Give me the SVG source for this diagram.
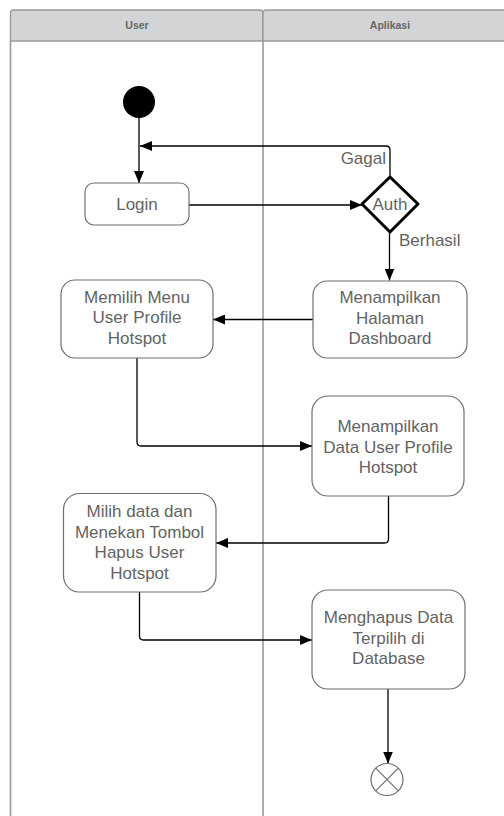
<svg xmlns="http://www.w3.org/2000/svg" width="504" height="816" viewBox="0 0 504 816">
  <style>
    .lane { fill: none; stroke: #9a9a9a; stroke-width: 1.6; }
    .head { fill: #d3d4d6; stroke: #9a9a9a; stroke-width: 1.4; }
    .htxt { font-family: "Liberation Sans", Arial, sans-serif; font-size: 10.5px; font-weight: bold; fill: #666666; text-anchor: middle; }
    .box { fill: #ffffff; stroke: #6f6f6f; stroke-width: 1.2; }
    .txt { font-family: "Liberation Sans", Arial, sans-serif; font-size: 17px; fill: #636363; text-anchor: middle; }
    .lbl { font-family: "Liberation Sans", Arial, sans-serif; font-size: 17px; fill: #636363; }
    .edge { fill: none; stroke: #000000; stroke-width: 1.3; }
  </style>
  <defs>
    <marker id="arrow" markerUnits="userSpaceOnUse" markerWidth="13" markerHeight="10" refX="12" refY="5" orient="auto">
      <path d="M0,0 L12,5 L0,10 z" fill="#000000"/>
    </marker>
  </defs>

  <rect width="504" height="816" fill="#ffffff"/>

  <!-- swimlanes -->
  <g id="lanes">
    <line class="lane" x1="10.5" y1="41" x2="10.5" y2="816"/>
    <line class="lane" x1="263" y1="41" x2="263" y2="816"/>
    <path class="head" d="M10.5,41 V13 Q10.5,10 13.5,10 H260 Q263,10 263,13 V41 Z"/>
    <path class="head" d="M263,41 V13 Q263,10 266,10 H510 V41 Z"/>
    <text class="htxt" x="137" y="28.5">User</text>
    <text class="htxt" x="390" y="28.5">Aplikasi</text>
  </g>

  <!-- connectors -->
  <g id="connectors">
    <path class="edge" d="M139,118 V183" marker-end="url(#arrow)"/>
    <path class="edge" d="M390,177 V150 Q390,146 386,146 H140" marker-end="url(#arrow)"/>
    <path class="edge" d="M189,205 H362" marker-end="url(#arrow)"/>
    <path class="edge" d="M389.5,232 V280.5" marker-end="url(#arrow)"/>
    <path class="edge" d="M313,319.5 H213" marker-end="url(#arrow)"/>
    <path class="edge" d="M137,358 V442 Q137,446 141,446 H312" marker-end="url(#arrow)"/>
    <path class="edge" d="M388.5,496 V539 Q388.5,543 384.5,543 H216" marker-end="url(#arrow)"/>
    <path class="edge" d="M139.5,592 V636 Q139.5,640 143.5,640 H312" marker-end="url(#arrow)"/>
    <path class="edge" d="M388,689 V763.5" marker-end="url(#arrow)"/>
    <text class="lbl" x="386" y="164" text-anchor="end">Gagal</text>
    <text class="lbl" x="399" y="246">Berhasil</text>
  </g>

  <!-- nodes -->
  <g id="start">
    <circle cx="139" cy="102" r="16" fill="#000000"/>
  </g>

  <g id="login">
    <rect class="box" x="85" y="183" width="104" height="42" rx="9"/>
    <text class="txt" x="137" y="210">Login</text>
  </g>

  <g id="auth">
    <polygon points="362,204 390,177 418,204 390,232" fill="#ffffff" stroke="#000000" stroke-width="3" stroke-linejoin="round"/>
    <text class="txt" x="390" y="210">Auth</text>
  </g>

  <g id="dashboard">
    <rect class="box" x="313" y="281" width="154" height="77" rx="14"/>
    <text class="txt" x="390" y="303">Menampilkan</text>
    <text class="txt" x="390" y="323.5">Halaman</text>
    <text class="txt" x="390" y="344">Dashboard</text>
  </g>

  <g id="pilih-menu">
    <rect class="box" x="61" y="280" width="152" height="78" rx="14"/>
    <text class="txt" x="137" y="302.5">Memilih Menu</text>
    <text class="txt" x="137" y="323">User Profile</text>
    <text class="txt" x="137" y="343.5">Hotspot</text>
  </g>

  <g id="data-profile">
    <rect class="box" x="312" y="396" width="152" height="100" rx="16"/>
    <text class="txt" x="388" y="432">Menampilkan</text>
    <text class="txt" x="388" y="452.5">Data User Profile</text>
    <text class="txt" x="388" y="473">Hotspot</text>
  </g>

  <g id="hapus-user">
    <rect class="box" x="63.5" y="493.5" width="152.5" height="98.5" rx="16"/>
    <text class="txt" x="139.5" y="517">Milih data dan</text>
    <text class="txt" x="139.5" y="537.5">Menekan Tombol</text>
    <text class="txt" x="139.5" y="558">Hapus User</text>
    <text class="txt" x="139.5" y="578.5">Hotspot</text>
  </g>

  <g id="hapus-data">
    <rect class="box" x="312" y="590" width="153" height="99" rx="16"/>
    <text class="txt" x="388.5" y="623">Menghapus Data</text>
    <text class="txt" x="388.5" y="643.5">Terpilih di</text>
    <text class="txt" x="388.5" y="664">Database</text>
  </g>

  <g id="end">
    <circle cx="387" cy="779.5" r="16" fill="#ffffff" stroke="#6f6f6f" stroke-width="1.2"/>
    <path d="M375.7,768.2 L398.3,790.8 M398.3,768.2 L375.7,790.8" stroke="#6f6f6f" stroke-width="1.2"/>
  </g>
</svg>
